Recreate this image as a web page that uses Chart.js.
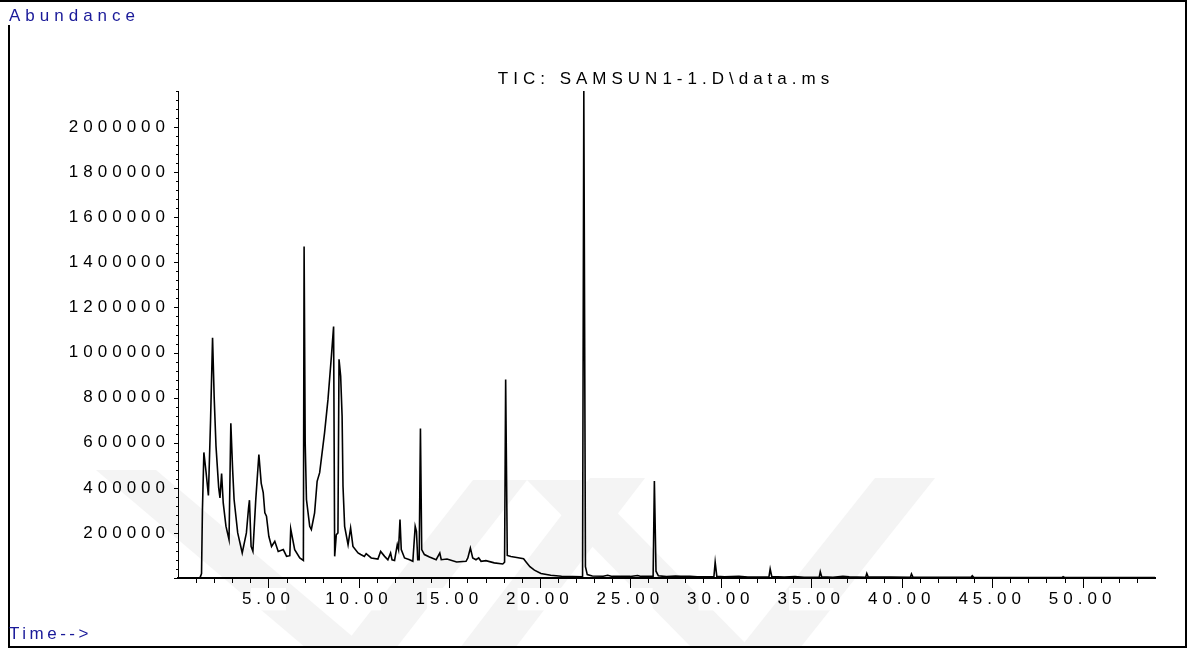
<!DOCTYPE html>
<html>
<head>
<meta charset="utf-8">
<script src="https://cdn.jsdelivr.net/npm/chart.js@4.4.0/dist/chart.umd.min.js"></script>
<style>
  html, body { margin: 0; padding: 0; background: #fff; }
  #wrap { width: 1193px; height: 648px; position: relative; }
</style>
</head>
<body>
<div id="wrap"><canvas id="tic"></canvas></div>
<script>
// retention time (min) and abundance (counts) of the TIC trace
var retTime = [
  0.00, 1.20, 1.25, 1.30, 1.35, 1.43, 1.55, 1.68, 1.80, 1.91,
  2.00, 2.10, 2.25, 2.32, 2.41, 2.50, 2.65, 2.82, 2.92, 3.02,
  3.10, 3.30, 3.55, 3.78, 3.90, 3.95, 4.04, 4.14, 4.30, 4.47,
  4.60, 4.71, 4.80, 4.89, 5.02, 5.17, 5.35, 5.54, 5.82, 6.00,
  6.18, 6.23, 6.45, 6.73, 6.93, 6.97, 7.03, 7.10, 7.28, 7.37,
  7.55, 7.69, 7.83, 8.10, 8.29, 8.48, 8.60, 8.66, 8.75, 8.84,
  8.90, 8.99, 9.07, 9.12, 9.21, 9.40, 9.54, 9.67, 9.95, 10.10,
  10.30, 10.40, 10.68, 11.05, 11.20, 11.42, 11.60, 11.75, 11.83, 11.97,
  12.12, 12.19, 12.27, 12.34, 12.52, 12.80, 12.98, 13.11, 13.18, 13.25,
  13.33, 13.40, 13.47, 13.62, 13.90, 14.27, 14.47, 14.55, 14.87, 15.40,
  15.92, 16.02, 16.16, 16.29, 16.47, 16.62, 16.75, 17.02, 17.48, 17.95,
  18.05, 18.11, 18.20, 18.40, 18.80, 19.10, 19.25, 19.45, 19.70, 20.06,
  20.60, 21.20, 21.80, 22.36, 22.43, 22.52, 22.62, 22.90, 23.50, 23.75,
  24.00, 25.00, 25.40, 25.60, 26.26, 26.33, 26.42, 26.55, 27.00, 27.50,
  27.80, 28.30, 28.70, 29.62, 29.69, 29.78, 30.20, 31.00, 31.50, 32.66,
  32.73, 32.82, 33.50, 34.10, 34.60, 35.44, 35.50, 35.58, 36.20, 36.75,
  37.10, 38.01, 38.07, 38.15, 39.40, 40.48, 40.54, 40.62, 43.84, 43.90,
  43.98, 48.86, 48.92, 49.00, 54.00
];
var abundance = [
  0, 0, 8000, 20000, 300000, 557000, 470000, 366000, 700000, 1066000,
  800000, 585000, 400000, 355000, 463000, 333000, 230000, 170000, 686000, 480000,
  348000, 200000, 111000, 200000, 311000, 345000, 140000, 118000, 350000, 548000,
  420000, 379000, 289000, 274000, 185000, 140000, 163000, 118000, 126000, 96000,
  99000, 218000, 126000, 89000, 78000, 1470000, 600000, 348000, 229000, 215000,
  289000, 429000, 467000, 644000, 792000, 985000, 1115000, 96000, 192000, 200000,
  970000, 896000, 718000, 407000, 229000, 148000, 222000, 140000, 111000, 104000,
  96000, 108000, 89000, 84000, 118000, 96000, 81000, 111000, 81000, 78000,
  148000, 126000, 259000, 126000, 89000, 81000, 74000, 229000, 207000, 81000,
  81000, 663000, 126000, 104000, 93000, 81000, 111000, 81000, 84000, 71000,
  74000, 89000, 133000, 89000, 81000, 89000, 74000, 77000, 67000, 62000,
  70000, 880000, 100000, 95000, 90000, 85000, 70000, 50000, 35000, 20000,
  12000, 8000, 6000, 5000, 2160000, 50000, 15000, 9000, 8000, 12000,
  7000, 7000, 11000, 7000, 7000, 430000, 30000, 10000, 6000, 9000,
  8000, 8000, 5000, 5000, 70000, 8000, 5000, 7000, 4000, 4000,
  40000, 6000, 4000, 6000, 3000, 3000, 28000, 5000, 3000, 7000,
  5000, 3000, 20000, 4000, 4000, 3000, 18000, 4000, 3000, 10000,
  3000, 2000, 6000, 2000, 2000
];

var timeLabels = [5, 10, 15, 20, 25, 30, 35, 40, 45, 50];
var abundanceLabels = [200000, 400000, 600000, 800000, 1000000, 1200000, 1400000, 1600000, 1800000, 2000000];
var chartTitle = "TIC: SAMSUN1-1.D\\data.ms";

var points = retTime.map(function (t, i) {
  return { x: t, y: abundance[i] };
});

var FONT = "'Liberation Sans', Arial, sans-serif";
var BLUE = "#1a1a99";

// white page, faint grey watermark bands underneath everything
var background = {
  id: "background",
  beforeDraw: function (chart) {
    var ctx = chart.ctx;
    ctx.save();
    ctx.fillStyle = "#fff";
    ctx.fillRect(0, 0, chart.width, chart.height);
    ctx.fillStyle = "#f4f4f4";
    var bands = [
      [[96, 470], [156, 470], [366, 648], [306, 648]],
      [[473, 480], [527, 480], [396, 648], [342, 648]],
      [[527, 480], [585, 480], [750, 648], [692, 648]],
      [[590, 478], [645, 478], [515, 648], [460, 648]],
      [[875, 478], [935, 478], [800, 648], [740, 648]]
    ];
    bands.forEach(function (b) {
      ctx.beginPath();
      ctx.moveTo(b[0][0], b[0][1]);
      for (var i = 1; i < b.length; i++) ctx.lineTo(b[i][0], b[i][1]);
      ctx.closePath();
      ctx.fill();
    });
    ctx.restore();
    // spaced-out lettering used by the instrument software
    ctx.letterSpacing = "5px";
  }
};

// minor/major tick marks, frame and the corner captions
var decorations = {
  id: "decorations",
  afterDraw: function (chart) {
    var ctx = chart.ctx;
    var xs = chart.scales.x, ys = chart.scales.y;
    var area = chart.chartArea;
    ctx.save();
    ctx.strokeStyle = "#000";
    ctx.lineWidth = 1;
    ctx.beginPath();
    for (var v = 0; v <= 2160000; v += 40000) {
      var py = Math.round(ys.getPixelForValue(v)) + 0.5;
      var len = v % 200000 === 0 ? 4 : 2;
      ctx.moveTo(area.left - len, py);
      ctx.lineTo(area.left, py);
    }
    for (var t = 1; t <= 53; t++) {
      var px = Math.round(xs.getPixelForValue(t)) + 0.5;
      var tl = t % 5 === 0 ? 10 : 5;
      ctx.moveTo(px, area.bottom);
      ctx.lineTo(px, area.bottom + tl);
    }
    ctx.stroke();

    // outer frame
    ctx.lineWidth = 2;
    ctx.beginPath();
    ctx.moveTo(0, 1);
    ctx.lineTo(1186, 1);
    ctx.lineTo(1186, 647);
    ctx.lineTo(9, 647);
    ctx.lineTo(9, 25);
    ctx.stroke();

    ctx.letterSpacing = "5px";
    ctx.textBaseline = "middle";
    ctx.font = "17px " + FONT;
    ctx.fillStyle = "#000";
    ctx.textAlign = "center";
    ctx.fillText(chartTitle, 666, 79);

    ctx.textAlign = "left";
    ctx.fillStyle = BLUE;
    ctx.fillText("Abundance", 9, 16);
    ctx.letterSpacing = "3.5px";
    ctx.fillText("Time-->", 9, 634);
    ctx.restore();
  }
};

new Chart(document.getElementById("tic"), {
  type: "line",
  data: {
    datasets: [
      {
        label: chartTitle,
        data: points,
        borderColor: "#000",
        borderWidth: 1.6,
        pointRadius: 0,
        tension: 0,
        fill: false
      }
    ]
  },
  options: {
    responsive: true,
    maintainAspectRatio: false,
    animation: false,
    events: [],
    layout: {
      padding: { left: 0, right: 38, top: 91, bottom: 0 }
    },
    plugins: {
      legend: { display: false },
      title: { display: false },
      tooltip: { enabled: false }
    },
    scales: {
      x: {
        type: "linear",
        min: 0,
        max: 54,
        afterFit: function (scale) {
          scale.height = 70;
        },
        afterBuildTicks: function (scale) {
          scale.ticks = timeLabels.map(function (v) { return { value: v }; });
        },
        grid: { display: false, drawTicks: false },
        border: { display: true, color: "#000", width: 2 },
        ticks: {
          autoSkip: false,
          maxRotation: 0,
          padding: 11,
          color: "#000",
          font: { family: FONT, size: 17 },
          showLabelBackdrop: true,
          backdropColor: "#fff",
          backdropPadding: 1,
          callback: function (value) {
            return Number(value).toFixed(2);
          }
        }
      },
      y: {
        min: 0,
        max: 2160000,
        afterFit: function (scale) {
          scale.width = 178;
        },
        afterBuildTicks: function (scale) {
          scale.ticks = abundanceLabels.map(function (v) { return { value: v }; });
        },
        grid: { display: false, drawTicks: false },
        border: { display: true, color: "#000", width: 1 },
        ticks: {
          autoSkip: false,
          padding: 8,
          color: "#000",
          font: { family: FONT, size: 17 },
          callback: function (value) {
            return String(value);
          }
        }
      }
    }
  },
  plugins: [background, decorations]
});
</script>
</body>
</html>
